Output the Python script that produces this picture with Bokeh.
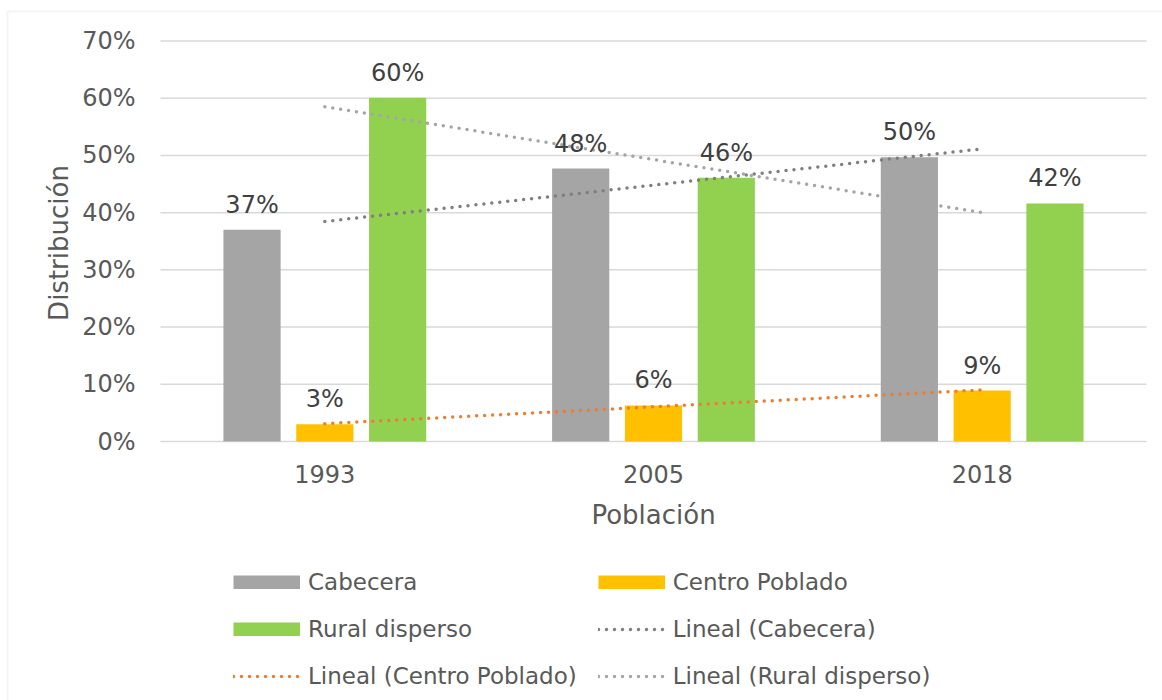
import numpy as np
from bokeh.plotting import figure
from bokeh.models import (ColumnDataSource, Range1d, LabelSet, Label,
                          Legend, LegendItem, BoxAnnotation)
from bokeh.core.properties import value
from bokeh.embed import file_html
from bokeh.resources import INLINE

# ---- data ----
years = ["1993", "2005", "2018"]
cabecera = [0.370, 0.477, 0.497]
centro_poblado = [0.030, 0.063, 0.089]
rural_disperso = [0.601, 0.461, 0.416]
y_ticks = [0.0, 0.1, 0.2, 0.3, 0.4, 0.5, 0.6, 0.7]
y_tick_labels = ["0%", "10%", "20%", "30%", "40%", "50%", "60%", "70%"]

FONT = "DejaVu Sans"
TXT = "#595959"
LBL = "#404040"
C_CAB, C_CEN, C_RUR = "#A5A5A5", "#FFC000", "#92D050"

# ---- page geometry (pixels) ----
W_PX, H_PX = 1162, 700
PLOT_L, PLOT_R = 160, 1146      # plot area left/right
TOP_PX, BASE_PX = 40.5, 441     # 70% line, 0% line
ncat = len(years)
cw = (PLOT_R - PLOT_L) / ncat   # px per category
unit = (BASE_PX - TOP_PX) / y_ticks[-1]   # px per 1.0
x_start = -PLOT_L / cw
x_end = (W_PX - PLOT_L) / cw
y_end = y_ticks[-1] + TOP_PX / unit
y_start = -(H_PX - BASE_PX) / unit

def pct(v):
    return [f"{round(x * 100):.0f}%" for x in v]

xc = np.arange(ncat) + 0.5          # category centres
BW = 0.174
OFF = 0.2215

src = ColumnDataSource(dict(
    year=years, xc=xc,
    x_cab=xc - OFF, x_cen=xc, x_rur=xc + OFF,
    cab=cabecera, cen=centro_poblado, rur=rural_disperso,
    cab_l=pct(cabecera), cen_l=pct(centro_poblado), rur_l=pct(rural_disperso),
    zero=[0.0] * ncat,
))
tick_src = ColumnDataSource(dict(y=y_ticks, lab=y_tick_labels, x0=[0.0] * len(y_ticks),
                                 x1=[float(ncat)] * len(y_ticks)))

# linear trend lines (least squares over category index, as in Excel)
xi = np.arange(1, ncat + 1)
def trend(v):
    m, b = np.polyfit(xi, v, 1)
    return list(m * xi + b)

p = figure(x_range=Range1d(x_start, x_end), y_range=Range1d(y_start, y_end),
           width=W_PX, height=H_PX, output_backend="svg", toolbar_location=None,
           min_border=0)
p.xaxis.visible = False
p.yaxis.visible = False
p.xgrid.visible = False
p.ygrid.visible = False
p.outline_line_color = None
p.background_fill_color = "white"
p.border_fill_color = "white"

# gridlines
p.segment(x0="x0", x1="x1", y0="y", y1="y", source=tick_src,
          line_color="#D9D9D9", line_width=1.5)

p.vbar(x="x_cab", top="cab", width=BW, source=src, fill_color=C_CAB, line_color=None)
p.vbar(x="x_cen", top="cen", width=BW, source=src, fill_color=C_CEN, line_color=None)
p.vbar(x="x_rur", top="rur", width=BW, source=src, fill_color=C_RUR, line_color=None)

DOT = dict(line_width=3.5, line_dash="0 8", line_cap="round")
t_cab = p.line(xc, trend(cabecera), line_color="#7F7F7F", **DOT)
t_cen = p.line(xc, trend(centro_poblado), line_color="#ED7D31", **DOT)
t_rur = p.line(xc, trend(rural_disperso), line_color="#A5A5A5", **DOT)

# legend swatches for the bar series (empty renderers, legend only)
nan = [float("nan")]
sw_cab = p.line(nan, nan, line_color=C_CAB, line_width=14, line_cap="butt")
sw_cen = p.line(nan, nan, line_color=C_CEN, line_width=14, line_cap="butt")
sw_rur = p.line(nan, nan, line_color=C_RUR, line_width=14, line_cap="butt")

# data labels
for col in ("cab", "cen", "rur"):
    p.add_layout(LabelSet(x="x_" + col, y=col, text=col + "_l", source=src,
                          text_align="center", text_baseline="alphabetic",
                          y_offset=17, text_font=value(FONT), text_font_size="24px",
                          text_color=LBL))

# y tick labels
p.add_layout(LabelSet(x="x0", y="y", text="lab", source=tick_src, x_offset=-25,
                      text_align="right", text_baseline="middle",
                      text_font=value(FONT), text_font_size="24px", text_color=TXT))
# x tick labels
p.add_layout(LabelSet(x="xc", y="zero", text="year", source=src, y_offset=-41,
                      text_align="center", text_baseline="alphabetic",
                      text_font=value(FONT), text_font_size="24px", text_color=TXT))
# axis titles
p.add_layout(Label(x=ncat / 2, y=0, y_offset=-73, text="Población",
                   text_align="center", text_baseline="alphabetic",
                   text_font=FONT, text_font_size="26px", text_color=TXT))
p.add_layout(Label(x=(58 - PLOT_L) / cw, y=(BASE_PX - 242.5) / unit, angle=np.pi / 2,
                   text="Distribución", text_align="center", text_baseline="alphabetic",
                   text_font=FONT, text_font_size="26px", text_color=TXT))

legend = Legend(items=[
    LegendItem(label="Cabecera", renderers=[sw_cab]),
    LegendItem(label="Centro Poblado", renderers=[sw_cen]),
    LegendItem(label="Rural disperso", renderers=[sw_rur]),
    LegendItem(label="Lineal (Cabecera)", renderers=[t_cab]),
    LegendItem(label="Lineal (Centro Poblado)", renderers=[t_cen]),
    LegendItem(label="Lineal (Rural disperso)", renderers=[t_rur]),
], location=(233, 11), orientation="horizontal", ncols=2,
    glyph_width=67, glyph_height=14, label_standoff=8, spacing=21, label_height=24,
    padding=0, margin=0, border_line_color=None, background_fill_alpha=0,
    label_text_font=FONT, label_text_font_size="23px", label_text_color=TXT)
p.add_layout(legend, "center")

# outer chart border (top and left edges visible in the reference)
p.add_layout(BoxAnnotation(left=(7 - PLOT_L) / cw, right=x_end + 1,
                           top=y_end - 11 / unit, bottom=y_start - 1,
                           fill_alpha=0, line_color="#D9D9D9", line_width=2))

open("out.html", "w").write(file_html(p, INLINE))
